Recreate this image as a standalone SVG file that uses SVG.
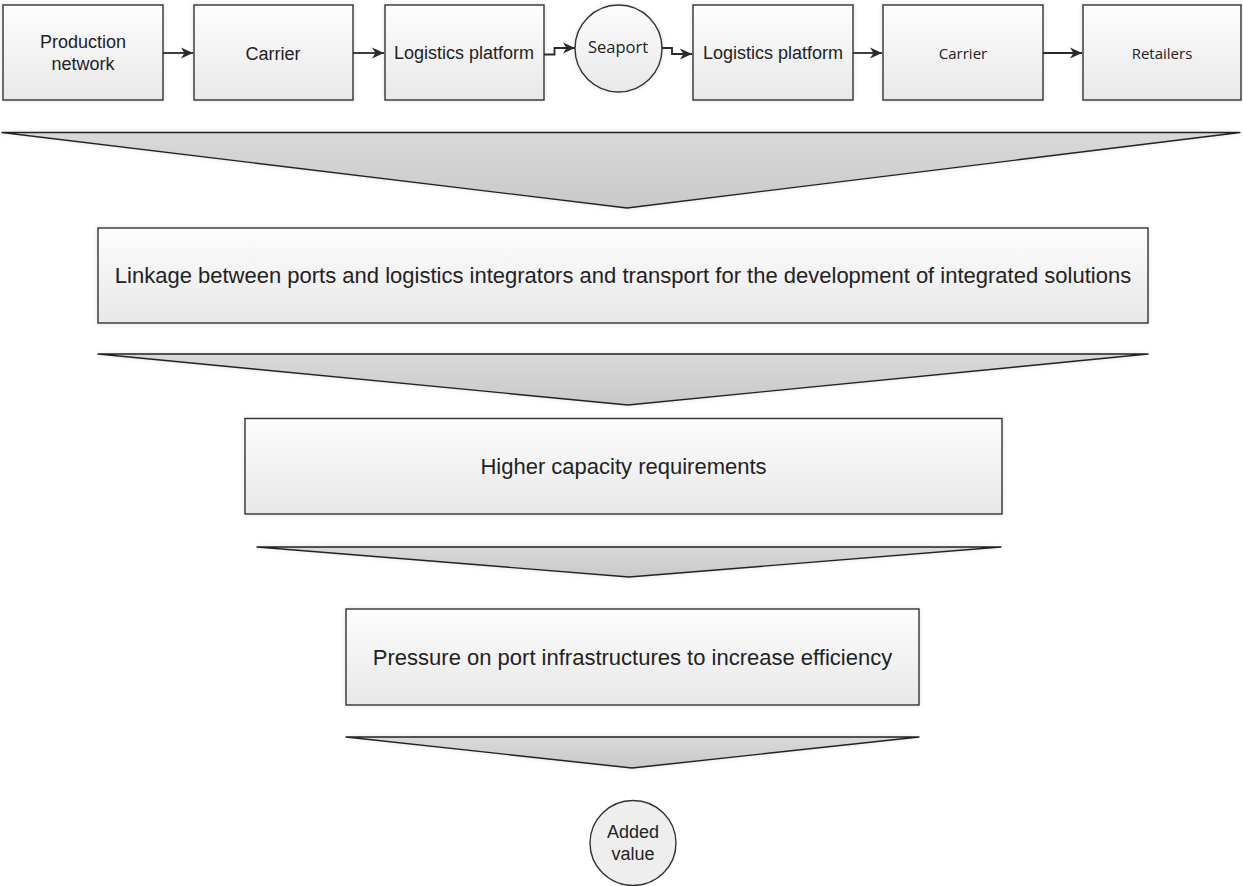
<svg xmlns="http://www.w3.org/2000/svg" width="1243" height="886" viewBox="0 0 1243 886">
  <defs>
    <linearGradient id="boxFill" x1="0" y1="0" x2="0" y2="1">
      <stop offset="0" stop-color="#fdfdfd"/>
      <stop offset="1" stop-color="#e8e8e8"/>
    </linearGradient>
    <linearGradient id="funnelFill" x1="0" y1="0" x2="0" y2="1">
      <stop offset="0" stop-color="#d9d9d9"/>
      <stop offset="1" stop-color="#c9c9c9"/>
    </linearGradient>
    <filter id="shadow" x="-5%" y="-20%" width="110%" height="140%">
      <feGaussianBlur in="SourceAlpha" stdDeviation="2.5"/>
      <feComponentTransfer><feFuncA type="linear" slope="0.12"/></feComponentTransfer>
      <feMerge><feMergeNode/><feMergeNode in="SourceGraphic"/></feMerge>
    </filter>
    <marker id="arrow" markerWidth="13" markerHeight="12" refX="12" refY="6" orient="auto" markerUnits="userSpaceOnUse">
      <path d="M0,0.5 L12,6 L0,11.5 L3.5,6 z" fill="#2a2a2a"/>
    </marker>
  </defs>
  <style>
    .box { fill: url(#boxFill); stroke: #333; stroke-width: 1.4; filter: url(#shadow); }
    .funnel { fill: url(#funnelFill); stroke: #222; stroke-width: 1.4; stroke-linejoin: round; filter: url(#shadow); }
    .conn { fill: none; stroke: #2a2a2a; stroke-width: 1.8; marker-end: url(#arrow); }
    .t { font-family: "Liberation Sans", Arial, sans-serif; fill: #222; text-anchor: middle; }
    .s18 { font-size: 18px; }
    .s22 { font-size: 22px; }
    .os { font-family: "Open Sans", "Liberation Sans", sans-serif; font-size: 15px; }
  </style>
  <rect width="1243" height="886" fill="#ffffff"/>

  <!-- supply chain row -->
  <g id="production-network">
    <rect class="box" x="3" y="5" width="160" height="95"/>
    <text class="t s18" x="83" y="48">Production</text>
    <text class="t s18" x="83" y="69.5">network</text>
  </g>
  <g id="carrier-1">
    <rect class="box" x="194" y="5" width="159" height="95"/>
    <text class="t s18" x="273" y="59.5">Carrier</text>
  </g>
  <g id="logistics-platform-1">
    <rect class="box" x="385" y="5" width="159" height="95"/>
    <text class="t s18" x="464" y="59">Logistics platform</text>
  </g>
  <g id="seaport">
    <circle class="box" cx="618.5" cy="48.5" r="43.5"/>
    <text class="t os" x="618" y="53" style="font-size:16.5px">Seaport</text>
  </g>
  <g id="logistics-platform-2">
    <rect class="box" x="693" y="5" width="160" height="95"/>
    <text class="t s18" x="773" y="59">Logistics platform</text>
  </g>
  <g id="carrier-2">
    <rect class="box" x="883" y="5" width="160" height="95"/>
    <text class="t os" x="963" y="58.5">Carrier</text>
  </g>
  <g id="retailers">
    <rect class="box" x="1083" y="5" width="158" height="95"/>
    <text class="t os" x="1162" y="58.5">Retailers</text>
  </g>

  <!-- flow connectors -->
  <g id="connectors">
    <path class="conn" d="M163,53 H193"/>
    <path class="conn" d="M353,53 H384"/>
    <path class="conn" d="M544,54.5 H554.5 V48 H575"/>
    <path class="conn" d="M662,48 H672 V54 H692"/>
    <path class="conn" d="M853,53 H882"/>
    <path class="conn" d="M1043,53 H1082"/>
  </g>

  <!-- funnel stages -->
  <g id="funnel-1">
    <polygon class="funnel" points="2,132.5 1240,132.5 627,208"/>
  </g>
  <g id="linkage">
    <rect class="box" x="98" y="228" width="1050" height="95"/>
    <text class="t s22" x="623" y="283">Linkage between ports and logistics integrators and transport for the development of integrated solutions</text>
  </g>
  <g id="funnel-2">
    <polygon class="funnel" points="98,354 1148,354 628,405"/>
  </g>
  <g id="capacity">
    <rect class="box" x="245" y="418.5" width="757" height="95.5"/>
    <text class="t s22" x="623.5" y="474">Higher capacity requirements</text>
  </g>
  <g id="funnel-3">
    <polygon class="funnel" points="257,547 1001,547 629,577"/>
  </g>
  <g id="pressure">
    <rect class="box" x="346" y="609" width="573" height="96"/>
    <text class="t s22" x="632.5" y="665">Pressure on port infrastructures to increase efficiency</text>
  </g>
  <g id="funnel-4">
    <polygon class="funnel" points="346,737 919,737 632,768"/>
  </g>
  <g id="added-value">
    <ellipse cx="633" cy="843" rx="43" ry="42.5" fill="#eeeeee" stroke="#333" stroke-width="1.4"/>
    <text class="t s18" x="633" y="838">Added</text>
    <text class="t s18" x="633" y="859.5">value</text>
  </g>
</svg>
